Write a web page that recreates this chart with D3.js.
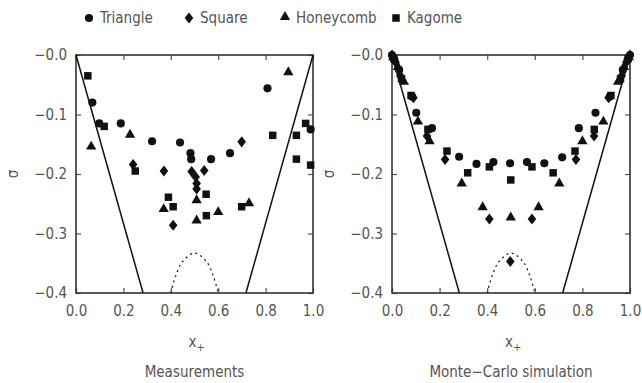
<!DOCTYPE html>
<html>
<head>
<meta charset="utf-8">
<script src="https://cdn.jsdelivr.net/npm/d3@7"></script>
<style>
  body { margin: 0; background: #fff; }
  svg text { font-family: "DejaVu Sans Condensed", "DejaVu Sans", sans-serif; font-stretch: condensed; fill: #555; }
</style>
</head>
<body>
<div id="wrapper"></div>
<script>
// ---- data (x+, sigma) ----
const measTriangle = [[0.069,-0.08],[0.098,-0.115],[0.189,-0.115],[0.321,-0.145],[0.439,-0.147],[0.483,-0.165],[0.486,-0.175],[0.57,-0.175],[0.65,-0.165],[0.808,-0.056],[0.99,-0.125]]
const measSquare = [[0.241,-0.184],[0.371,-0.195],[0.488,-0.196],[0.505,-0.205],[0.509,-0.216],[0.509,-0.225],[0.541,-0.194],[0.41,-0.286],[0.699,-0.146]]
const measHoneycomb = [[0.064,-0.154],[0.228,-0.134],[0.37,-0.259],[0.509,-0.244],[0.509,-0.278],[0.6,-0.264],[0.73,-0.249],[0.896,-0.029]]
const measKagome = [[0.05,-0.035],[0.119,-0.12],[0.25,-0.195],[0.39,-0.239],[0.41,-0.255],[0.549,-0.234],[0.55,-0.27],[0.699,-0.255],[0.83,-0.135],[0.93,-0.135],[0.93,-0.175],[0.969,-0.115],[0.99,-0.185]]

const mcTriangle = [[0,0],[0.01,-0.008],[0.03,-0.025],[0.085,-0.07],[0.102,-0.097],[0.168,-0.123],[0.282,-0.171],[0.355,-0.183],[0.426,-0.18],[0.496,-0.182],[0.567,-0.18],[0.64,-0.182],[0.715,-0.172],[0.785,-0.123],[0.855,-0.097],[0.915,-0.07],[0.97,-0.025],[0.99,-0.008],[1,0]]
const mcSquare = [[0,0],[0.015,-0.012],[0.035,-0.035],[0.09,-0.072],[0.147,-0.136],[0.223,-0.1755],[0.409,-0.2756],[0.497,-0.347],[0.588,-0.2756],[0.773,-0.1755],[0.849,-0.136],[0.91,-0.072],[0.965,-0.035],[0.985,-0.012],[1,0]]
const mcHoneycomb = [[0.005,-0.004],[0.025,-0.02],[0.05,-0.045],[0.109,-0.112],[0.158,-0.145],[0.293,-0.216],[0.381,-0.256],[0.499,-0.273],[0.616,-0.256],[0.703,-0.216],[0.8,-0.145],[0.888,-0.112],[0.95,-0.045],[0.975,-0.02],[0.995,-0.004]]
const mcKagome = [[0.008,-0.006],[0.04,-0.04],[0.08,-0.068],[0.151,-0.125],[0.231,-0.1615],[0.318,-0.198],[0.409,-0.188],[0.499,-0.21],[0.588,-0.188],[0.677,-0.198],[0.769,-0.1615],[0.85,-0.125],[0.92,-0.068],[0.96,-0.04],[0.992,-0.006]]

const boundLeft = [[0,0],[0.283,-0.4]]
const boundRight = [[0.717,-0.4],[1,0]]
const dashedArc = [[0.40,-0.40],[0.42,-0.372],[0.45,-0.347],[0.5,-0.333],[0.55,-0.347],[0.58,-0.372],[0.60,-0.40]]

const xTicks = [0, 0.2, 0.4, 0.6, 0.8, 1.0]
const yTicks = [0, -0.1, -0.2, -0.3, -0.4]
const lattices = ["Triangle", "Square", "Honeycomb", "Kagome"]

// squat diamond like the plotting package uses
const fatDiamond = {
  draw(context, size) {
    const h = Math.sqrt(size) * 0.78, w = h * 0.78
    context.moveTo(0, -h)
    context.lineTo(w, 0)
    context.lineTo(0, h)
    context.lineTo(-w, 0)
    context.closePath()
  }
}

const symbolFor = {
  Triangle: d3.symbol(d3.symbolCircle, 52),
  Square: d3.symbol(fatDiamond, 50),
  Honeycomb: d3.symbol(d3.symbolTriangle, 46),
  Kagome: d3.symbol(d3.symbolSquare, 56),
}

const width = 642, height = 383
const svg = d3.select("#wrapper").append("svg")
  .attr("width", width)
  .attr("height", height)

// legend
const legendX = [89, 189, 285, 396]
lattices.forEach((name, i) => {
  svg.append("path")
    .attr("d", symbolFor[name]())
    .attr("transform", `translate(${legendX[i]},${name === "Honeycomb" ? 17 : 18})`)
    .attr("fill", "#111")
  svg.append("text")
    .attr("x", legendX[i] + 11)
    .attr("y", 23)
    .style("font-size", "15px")
    .text(name)
})

function drawPanel(left, right, sets, title) {
  const top = 55, bottom = 293
  const xScale = d3.scaleLinear().domain([0, 1]).range([left, right])
  const yScale = d3.scaleLinear().domain([-0.4, 0]).range([bottom, top])
  const g = svg.append("g")

  const yAxis = g.append("g")
    .attr("transform", `translate(${left},0)`)
    .call(d3.axisLeft(yScale).tickValues(yTicks).tickSize(-5).tickPadding(9)
      .tickFormat(d => "\u2212" + Math.abs(d).toFixed(1)))
  const xAxis = g.append("g")
    .attr("transform", `translate(0,${bottom})`)
    .call(d3.axisBottom(xScale).tickValues(xTicks).tickSize(-5).tickPadding(12)
      .tickFormat(d3.format(".1f")))
  const topAxis = g.append("g")
    .attr("transform", `translate(0,${top})`)
    .call(d3.axisTop(xScale).tickValues(xTicks).tickSize(-5).tickFormat(""))
  const rightAxis = g.append("g")
    .attr("transform", `translate(${right},0)`)
    .call(d3.axisRight(yScale).tickValues(yTicks).tickSize(-5).tickFormat(""))

  for (const ax of [yAxis, xAxis, topAxis, rightAxis]) {
    ax.select(".domain").remove()
    ax.selectAll("line").attr("stroke", "#555").attr("stroke-width", 1.2)
    ax.selectAll("text").style("font-size", "15px").attr("fill", "#555")
  }

  g.append("rect")
    .attr("x", left).attr("y", top)
    .attr("width", right - left).attr("height", bottom - top)
    .attr("fill", "none").attr("stroke", "#333").attr("stroke-width", 1.6)

  const line = d3.line().x(d => xScale(d[0])).y(d => yScale(d[1]))
  for (const b of [boundLeft, boundRight]) {
    g.append("path").datum(b)
      .attr("d", line)
      .attr("fill", "none").attr("stroke", "#111").attr("stroke-width", 1.5)
  }
  g.append("path").datum(dashedArc)
    .attr("d", line.curve(d3.curveCatmullRom))
    .attr("fill", "none").attr("stroke", "#222").attr("stroke-width", 1.3)
    .attr("stroke-dasharray", "2 3.5")

  lattices.forEach((name, i) => {
    g.selectAll(null).data(sets[i]).join("path")
      .attr("d", symbolFor[name]())
      .attr("transform", d => `translate(${xScale(d[0])},${yScale(d[1])})`)
      .attr("fill", "#111")
  })

  const cx = (left + right) / 2
  const xLabel = g.append("text")
    .attr("x", cx - 6).attr("y", 347)
    .style("font-size", "15px")
  xLabel.append("tspan").text("x")
  xLabel.append("tspan").attr("dy", 4).style("font-size", "11px").text("+")

  g.append("text")
    .attr("x", cx).attr("y", 377)
    .attr("text-anchor", "middle")
    .style("font-size", "15px")
    .text(title)

  g.append("text")
    .attr("transform", `translate(${left - 58},${(top + bottom) / 2}) rotate(-90)`)
    .attr("text-anchor", "middle")
    .style("font-size", "15px")
    .text("\u03c3")
}

drawPanel(76, 313, [measTriangle, measSquare, measHoneycomb, measKagome], "Measurements")
drawPanel(392, 630, [mcTriangle, mcSquare, mcHoneycomb, mcKagome], "Monte\u2212Carlo simulation")
</script>
</body>
</html>
